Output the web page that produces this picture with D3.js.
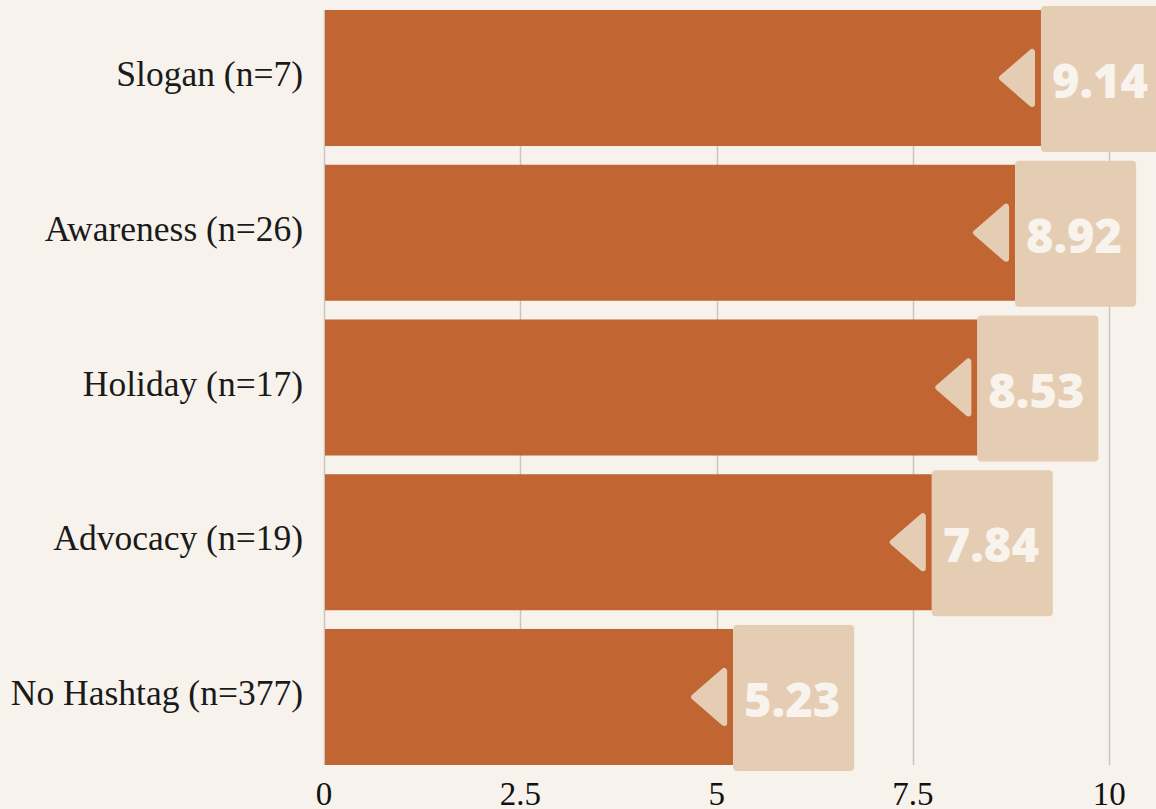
<!DOCTYPE html>
<html>
<head>
<meta charset="utf-8">
<script src="https://cdn.jsdelivr.net/npm/d3@7"></script>
<style>
  html, body { margin: 0; padding: 0; background: #f7f2ec; }
  svg { display: block; }
</style>
</head>
<body>
<svg id="chart" width="1156" height="809"></svg>
<script>
const categories = ["Slogan (n=7)", "Awareness (n=26)", "Holiday (n=17)", "Advocacy (n=19)", "No Hashtag (n=377)"];
const barLengths = [9.13, 8.80, 8.32, 7.74, 5.21];
const scoreLabels = ["9.14", "8.92", "8.53", "7.84", "5.23"];
const tickValues = [0, 2.5, 5, 7.5, 10];
const tickLabels = ["0", "2.5", "5", "7.5", "10"];

const svg = d3.select("#chart");
const W = 1156, H = 809;
svg.append("rect").attr("width", W).attr("height", H).attr("fill", "#f7f2ec");

const x = d3.scaleLinear().domain([0, 10]).range([324, 1109.3]);
const y = d3.scaleBand().domain(categories).range([10, 765]).paddingInner(0.121).paddingOuter(0);

const data = categories.map((c, i) => ({ cat: c, len: barLengths[i], label: scoreLabels[i] }));

// gridlines
svg.append("g").selectAll("line").data(tickValues).join("line")
  .attr("x1", d => Math.round(x(d)) + 0.5).attr("x2", d => Math.round(x(d)) + 0.5)
  .attr("y1", 10).attr("y2", 765)
  .attr("stroke", "#cbc5bf").attr("stroke-width", 1.5);

// x tick labels
svg.append("g").selectAll("text").data(tickValues).join("text")
  .attr("x", d => x(d)).attr("y", 805)
  .attr("text-anchor", "middle")
  .attr("font-family", "'Liberation Serif', serif")
  .attr("font-size", 33).attr("fill", "#111")
  .text((d, i) => tickLabels[i]);

// category labels
svg.append("g").selectAll("text").data(data).join("text")
  .attr("x", 303).attr("y", d => y(d.cat) + y.bandwidth() / 2 + 8)
  .attr("text-anchor", "end")
  .attr("font-family", "'Liberation Serif', serif")
  .attr("font-size", 35.5).attr("fill", "#1a1a1a")
  .text(d => d.cat);

// bars
svg.append("g").selectAll("rect").data(data).join("rect")
  .attr("x", x(0) + 1).attr("y", d => y(d.cat))
  .attr("width", d => x(d.len) - x(0) - 1).attr("height", y.bandwidth())
  .attr("fill", "#c16633");

// value badges
const badge = svg.append("g").selectAll("g").data(data).join("g");
badge.append("path")
  .attr("d", d => {
    const e = x(d.len), cy = y(d.cat) + y.bandwidth() / 2;
    return `M${e - 9},${cy - 26} L${e - 9},${cy + 26} L${e - 39},${cy} Z`;
  })
  .attr("fill", "#e5cdb3").attr("stroke", "#e5cdb3")
  .attr("stroke-width", 6).attr("stroke-linejoin", "round");
badge.append("rect")
  .attr("x", d => x(d.len)).attr("y", d => y(d.cat) - 4)
  .attr("width", 121).attr("height", y.bandwidth() + 10)
  .attr("rx", 4).attr("fill", "#e5cdb3");
badge.append("text")
  .attr("x", d => x(d.len) + 59).attr("y", d => y(d.cat) + y.bandwidth() / 2 + 20)
  .attr("text-anchor", "middle")
  .attr("font-family", "'Open Sans', sans-serif")
  .attr("font-weight", 800).attr("font-size", 47)
  .attr("fill", "#f8f3ed")
  .text(d => d.label);
</script>
</body>
</html>
